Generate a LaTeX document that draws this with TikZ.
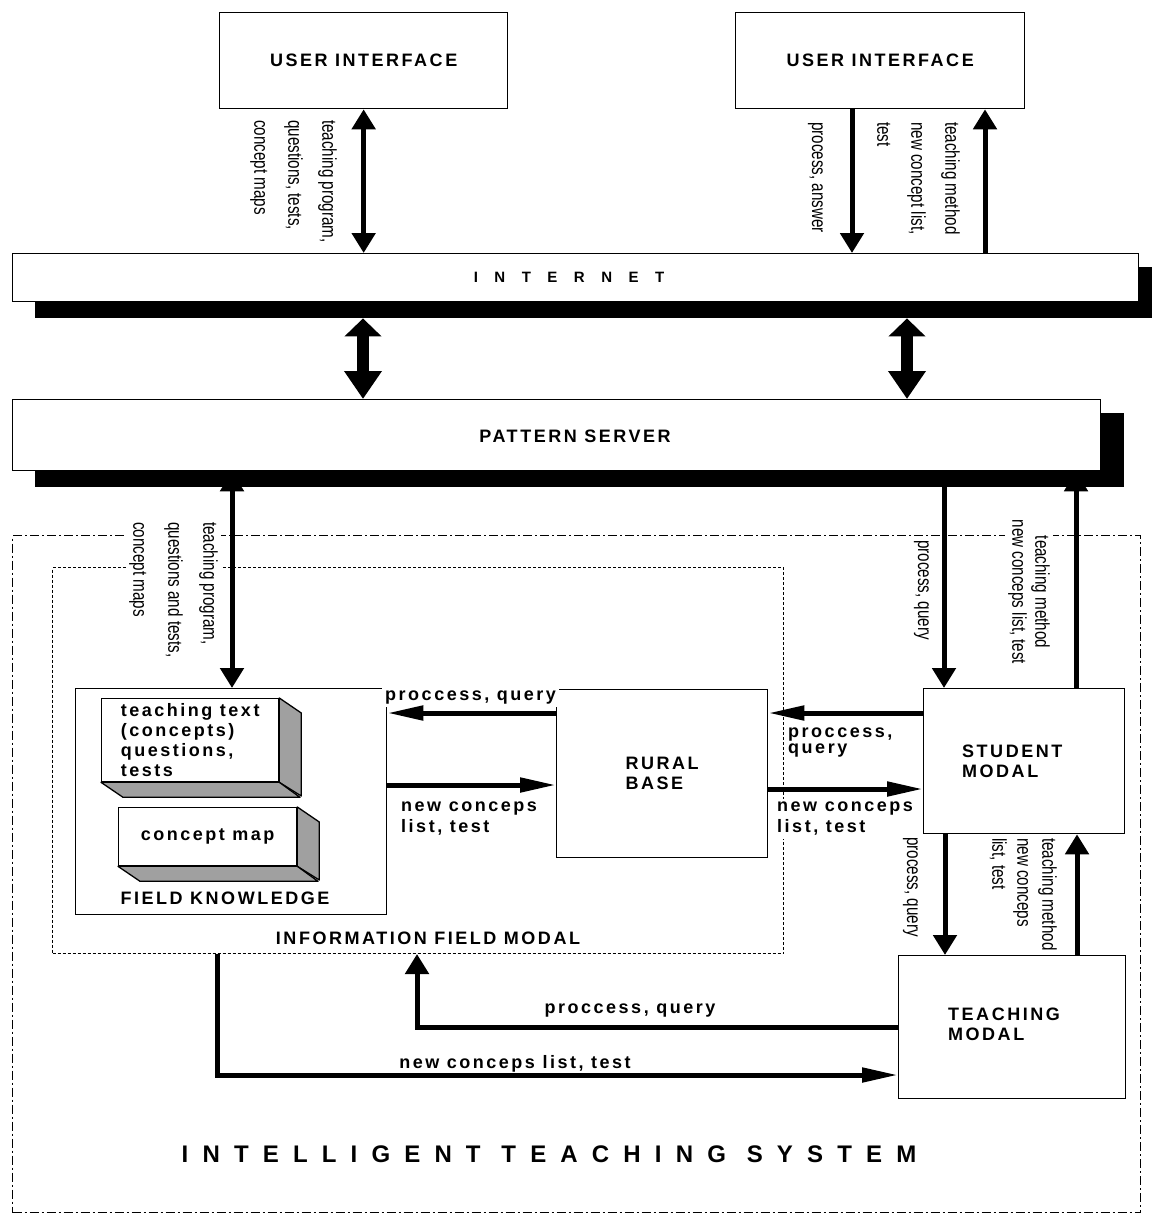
\documentclass[tikz,border=0pt]{standalone}
\usepackage{fontspec}
\setmainfont{Liberation Sans}
\newfontfamily\lblfont[LetterSpace=14]{Liberation Sans}
\newfontfamily\narrowfont[FakeStretch=0.76]{Liberation Sans}
\newfontfamily\inetfont[LetterSpace=110]{Liberation Sans}
\newfontfamily\titlefont[LetterSpace=59]{Liberation Sans}
\usetikzlibrary{arrows.meta}
\definecolor{sidegray}{RGB}{160,160,160}
\tikzset{
 box/.style={draw, line width=1.3pt, fill=white, inner sep=0pt, anchor=north west, font=\lblfont\bfseries\fontsize{18}{20}\selectfont, align=left},
 shadowbox/.style={fill=black, inner sep=0pt, anchor=north west},
 face/.style={draw, line width=1.3pt, fill=white, inner sep=0pt, anchor=north west, font=\lblfont\bfseries\fontsize{18}{20}\selectfont, align=left},
 side/.style={draw, line width=1.3pt, fill=sidegray, line join=round},
 bl/.style={font=\lblfont\bfseries\fontsize{18}{20}\selectfont, inner sep=0pt, align=left},
 blw/.style={bl, fill=white, inner sep=3pt},
 rl/.style={font=\narrowfont\fontsize{20}{34}\selectfont, rotate=-90, inner sep=3pt, fill=white, align=left, anchor=north west},
 varr/.style={line width=5pt, -{Triangle[width=23pt,length=20pt]}},
 vdbl/.style={line width=5pt, {Triangle[width=23pt,length=20pt]}-{Triangle[width=23pt,length=20pt]}},
 harr/.style={line width=5pt, -{Triangle[width=14pt,length=36pt]}},
 bigdbl/.style={line width=12pt, {Triangle[width=36pt,length=18pt]}-{Triangle[width=36pt,length=28pt]}},
 outerbox/.style={draw, line width=1.2pt, dash pattern=on 9pt off 3pt on 2pt off 3pt, inner sep=0pt, anchor=north west},
 innerbox/.style={draw, line width=1pt, dash pattern=on 3pt off 2pt, inner sep=0pt, anchor=north west},
}
\begin{document}
\begin{tikzpicture}[x=1pt,y=-1pt]
\useasboundingbox (0,0) rectangle (1152,1216);
% frames
\node[outerbox, minimum width=1128pt, minimum height=677pt] (its) at (12,535) {};
\node[innerbox, minimum width=731pt, minimum height=386pt] (ifm) at (52,567) {};
% bars and boxes
\node[shadowbox, minimum width=1117pt, minimum height=51pt] (inetsh) at (35,267) {};
\node[box, minimum width=1126pt, minimum height=48pt] (inet) at (12,253) {};
\node[shadowbox, minimum width=1089pt, minimum height=74pt] (pssh) at (35,413) {};
\node[box, minimum width=1088pt, minimum height=71pt] (ps) at (12,399) {};
\node[box, minimum width=288pt, minimum height=96pt] (ui1) at (219,12) {USER INTERFACE};
\node[box, minimum width=289pt, minimum height=96pt] (ui2) at (735,12) {USER INTERFACE};
\node[box, minimum width=311pt, minimum height=226pt] (fk) at (75,688) {};
\node[box, minimum width=211pt, minimum height=168pt] (rb) at (556,689) {RURAL\\BASE};
\node[box, minimum width=201pt, minimum height=145pt] (sm) at (923,688) {};
\node[box, minimum width=227pt, minimum height=143pt] (tm) at (898,955) {};
% 3D boxes
\node[face, minimum width=177pt, minimum height=83pt] (tt) at (101,698) {teaching text\\(concepts)\\questions,\\tests};
\draw[side] (tt.north east) -- ++(22,15) -- ++(0,83) -- (tt.south east) -- cycle;
\draw[side] (tt.south west) -- ++(22,15) -- ++(177,0) -- (tt.south east) -- cycle;
\node[face, minimum width=178pt, minimum height=58pt] (cm) at (118,807) {concept map};
\draw[side] (cm.north east) -- ++(22,15) -- ++(0,58) -- (cm.south east) -- cycle;
\draw[side] (cm.south west) -- ++(22,15) -- ++(178,0) -- (cm.south east) -- cycle;
% texts
\node[bl, font=\inetfont\bfseries\fontsize{15}{16}\selectfont] (inettxt) at (569,277) {INTERNET};
\node[bl] (pstxt) at (575,436) {PATTERN SERVER};
\node[bl, anchor=north west] (smtxt) at (962,745) {STUDENT\\MODAL};
\node[bl, anchor=north west] (tmtxt) at (948,1008) {TEACHING\\MODAL};
\node[bl] (fktxt) at (225,898) {FIELD KNOWLEDGE};
\node[bl] (ifmtxt) at (428,938) {INFORMATION FIELD MODAL};
% horizontal labels
\node[blw, anchor=base west] (l1) at (382,700) {proccess, query};
\node[blw, anchor=north west, font=\lblfont\bfseries\fontsize{18}{21}\selectfont] (l2) at (398,799) {new conceps\\list, test};
\node[blw, anchor=north west, font=\lblfont\bfseries\fontsize{18}{16}\selectfont] (l3) at (785,725) {proccess,\\query};
\node[blw, anchor=north west, font=\lblfont\bfseries\fontsize{18}{21}\selectfont] (l4) at (774,799) {new conceps\\list, test};
\node[bl, anchor=base] (l5) at (630,1013) {proccess, query};
\node[bl, anchor=base] (l6) at (515,1068) {new conceps list, test};
\node[bl, anchor=base, font=\titlefont\bfseries\fontsize{24}{28}\selectfont] (title) at (549,1162) {INTELLIGENT TEACHING SYSTEM};
% rotated labels
\node[rl] (r1) at (340,117) {teaching program,\\questions, tests,\\concept maps};
\node[rl] (r2) at (826,119) {process, answer};
\node[rl] (r3) at (963,119) {teaching method\\new concept list,\\test};
\node[rl, font=\narrowfont\fontsize{20}{35}\selectfont] (r4) at (221,519) {teaching program,\\questions and tests,\\concept maps};
\node[rl] (r5) at (932,537) {process, query};
\node[rl, anchor=north, align=center, font=\narrowfont\fontsize{20}{23}\selectfont] (r6) at (1053,592) {teaching method\\new conceps list, test};
\node[rl] (r7) at (921,834) {process, query};
\node[rl, font=\narrowfont\fontsize{20}{25}\selectfont] (r8) at (1060,835) {teaching method\\new conceps\\list, test};
% connectors
\draw[vdbl] (ui1.south) -- (ui1.south |- inet.north);
\draw[varr] (852,0 |- ui2.south) -- (852,0 |- inet.north);
\draw[varr] (985,0 |- inet.north) -- (985,0 |- ui2.south);
\draw[bigdbl] (363,0 |- inetsh.south) -- (363,0 |- ps.north);
\draw[bigdbl] (907,0 |- inetsh.south) -- (907,0 |- ps.north);
\draw[vdbl] (232,0 |- ps.south) -- (232,0 |- fk.north);
\draw[varr] (944,0 |- ps.south) -- (944,0 |- sm.north);
\draw[varr] (1076,0 |- sm.north) -- (1076,0 |- ps.south);
\draw[harr] (rb.west |- 0,713) -- (fk.east |- 0,713);
\draw[harr] (fk.east |- 0,785) -- (rb.west |- 0,785);
\draw[harr] (sm.west |- 0,713) -- (rb.east |- 0,713);
\draw[harr] (rb.east |- 0,789) -- (sm.west |- 0,789);
\draw[varr] (945,0 |- sm.south) -- (945,0 |- tm.north);
\draw[varr] (1077,0 |- tm.north) -- (1077,0 |- sm.south);
\draw[varr] (tm.west |- 0,1027) -| (417,0 |- ifm.south);
\draw[harr] (217,0 |- ifm.south) |- (tm.west |- 0,1075);
\end{tikzpicture}
\end{document}
